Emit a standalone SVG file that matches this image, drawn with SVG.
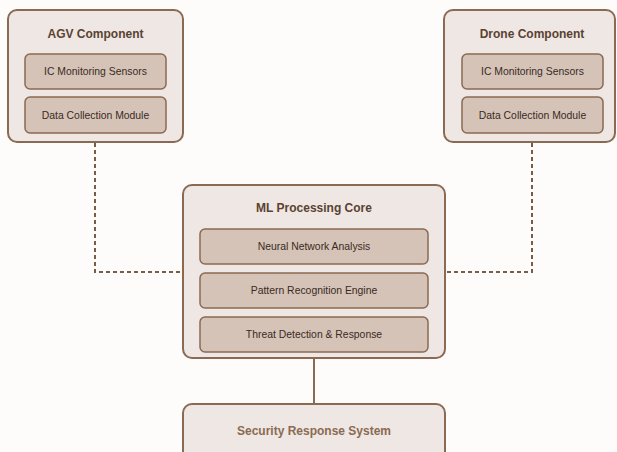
<svg xmlns="http://www.w3.org/2000/svg" width="617" height="452" viewBox="0 0 617 452">
<style>
.outer{fill:#eee7e3;stroke:#8a6a52;stroke-width:2}
.inner{fill:#d5c3b7;stroke:#8a6a52;stroke-width:1.5}
.title{font-family:"Liberation Sans",Arial,sans-serif;font-size:12px;font-weight:bold;fill:#5a4232;text-anchor:middle}
.label{font-family:"Liberation Sans",Arial,sans-serif;font-size:10.4px;fill:#3a2a1f;text-anchor:middle}
.sec{font-family:"Liberation Sans",Arial,sans-serif;font-size:12px;font-weight:bold;fill:#8a6a52;text-anchor:middle}
.dash{fill:none;stroke:#7a5c46;stroke-width:2;stroke-dasharray:4 3}
.solid{fill:none;stroke:#8a6a52;stroke-width:2}
</style>
<rect width="617" height="452" fill="#fdfcfb"/>
<g id="connectors">
<path class="dash" d="M95 143 V272 H182"/>
<path class="dash" d="M532 143 V272 H446"/>
<path class="solid" d="M314 359 V404"/>
</g>
<g id="agv">
<rect class="outer" x="8" y="10" width="175" height="132" rx="9"/>
<text class="title" x="95.5" y="38">AGV Component</text>
<g id="agv-sensors"><rect class="inner" x="25" y="54" width="141" height="35" rx="5"/>
<text class="label" x="95.5" y="75">IC Monitoring Sensors</text></g>
<g id="agv-data"><rect class="inner" x="25" y="97" width="141" height="36" rx="5"/>
<text class="label" x="95.5" y="119">Data Collection Module</text></g>
</g>
<g id="drone">
<rect class="outer" x="444" y="10" width="171" height="132" rx="9"/>
<text class="title" x="532" y="38">Drone Component</text>
<g id="drone-sensors"><rect class="inner" x="462" y="54" width="141" height="35" rx="5"/>
<text class="label" x="532.5" y="75">IC Monitoring Sensors</text></g>
<g id="drone-data"><rect class="inner" x="462" y="97" width="141" height="36" rx="5"/>
<text class="label" x="532.5" y="119">Data Collection Module</text></g>
</g>
<g id="ml">
<rect class="outer" x="183" y="185" width="262" height="173" rx="9"/>
<text class="title" x="314" y="212">ML Processing Core</text>
<g id="ml-nn"><rect class="inner" x="200" y="229" width="228" height="35" rx="5"/>
<text class="label" x="314" y="250">Neural Network Analysis</text></g>
<g id="ml-pr"><rect class="inner" x="200" y="273" width="228" height="35" rx="5"/>
<text class="label" x="314" y="294">Pattern Recognition Engine</text></g>
<g id="ml-td"><rect class="inner" x="200" y="317" width="228" height="35" rx="5"/>
<text class="label" x="314" y="338">Threat Detection &amp; Response</text></g>
</g>
<g id="security">
<rect class="outer" x="183" y="404" width="262" height="70" rx="9"/>
<text class="sec" x="314" y="435">Security Response System</text>
</g>
</svg>
